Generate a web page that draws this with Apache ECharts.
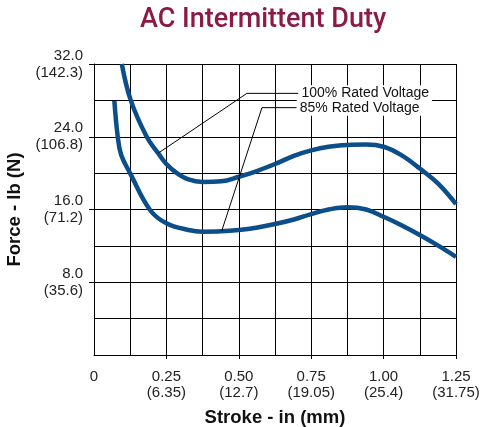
<!DOCTYPE html>
<html>
<head>
<meta charset="utf-8">
<script src="https://cdn.jsdelivr.net/npm/echarts@6/dist/echarts.min.js"></script>
<style>
  html, body { margin: 0; padding: 0; background: #fff; }
  #chart { width: 480px; height: 427px; }
</style>
</head>
<body>
<div id="chart"></div>
<script>
  // stroke (in) / force (lb)
  let fullX = [0.096, 0.127, 0.182, 0.222, 0.25, 0.286, 0.326, 0.375, 0.44, 0.5, 0.56, 0.625, 0.69, 0.75, 0.81, 0.875, 0.94, 1.0, 1.06, 1.125, 1.19, 1.25];
  let fullY = [32, 28, 24, 22.17, 21.0, 20.0, 19.3, 19.03, 19.1, 19.6, 20.2, 21.0, 21.9, 22.5, 22.9, 23.1, 23.15, 22.9, 22.0, 20.5, 18.8, 16.6];
  let lowX = [0.0703, 0.082, 0.094, 0.1245, 0.1935, 0.25, 0.326, 0.375, 0.44, 0.5, 0.56, 0.625, 0.69, 0.75, 0.81, 0.875, 0.94, 1.0, 1.06, 1.125, 1.19, 1.25];
  let lowY = [27.95, 24, 22, 20, 15.95, 14.48, 13.75, 13.56, 13.6, 13.75, 14.0, 14.4, 14.9, 15.5, 16.0, 16.25, 16.0, 15.2, 14.3, 13.2, 12.0, 10.8];

  // leader lines for the two callouts
  let fullLeader = [[0.222, 22.2], [0.528, 28.77], [0.706, 28.77]];
  let lowLeader = [[0.441, 13.64], [0.58, 27.2], [0.7, 27.2]];
  let seriesNames = ['100% Rated Voltage', '85% Rated Voltage'];

  let xTickValues = [0, 0.25, 0.5, 0.75, 1.0, 1.25];
  let xTickLabels = ['0', '0.25\n(6.35)', '0.50\n(12.7)', '0.75\n(19.05)', '1.00\n(25.4)', '1.25\n(31.75)'];
  let yTickValues = [8, 16, 24, 32];
  let yTickLabels = ['8.0\n(35.6)', '16.0\n(71.2)', '24.0\n(106.8)', '32.0\n(142.3)'];

  let zip = (xs, ys) => xs.map((x, i) => [x, ys[i]]);
  let labelFor = (vals, labels) => v => {
    let i = vals.findIndex(t => Math.abs(t - v) < 1e-6);
    return i < 0 ? '' : labels[i];
  };

  let sans = "'Liberation Sans', Arial, Helvetica, sans-serif";
  let curveColor = '#0b4e8a';
  let gridLine = { lineStyle: { color: '#000', width: 1 } };
  let labelFont = { fontFamily: sans, fontSize: 15, color: '#222', lineHeight: 17 };

  let myChart = echarts.init(document.getElementById('chart'), null, { renderer: 'canvas' });
  let option = {
    animation: false,
    backgroundColor: '#fff',
    title: {
      text: 'AC Intermittent Duty',
      left: 140,
      top: 7,
      padding: 0,
      textStyle: { fontFamily: 'Roboto', fontSize: 27, fontWeight: 500, color: '#8b1a47' }
    },
    grid: { left: 94, right: 24, top: 64, bottom: 72, containLabel: false, outerBoundsMode: 'none' },
    xAxis: {
      type: 'value',
      min: 0, max: 1.25, interval: 0.25,
      name: 'Stroke - in (mm)',
      nameLocation: 'middle',
      nameGap: 53,
      nameTextStyle: { fontFamily: sans, fontSize: 18.5, fontWeight: 'bold', color: '#111' },
      axisLine: { show: true, lineStyle: { color: '#000', width: 1 } },
      axisTick: { show: true, length: 4, lineStyle: { color: '#000' }, customValues: xTickValues.slice(1) },
      axisLabel: Object.assign({ margin: 14, formatter: labelFor(xTickValues, xTickLabels), customValues: xTickValues }, labelFont, { lineHeight: 16 }),
      splitLine: Object.assign({ show: true }, gridLine),
      minorTick: { show: false, splitNumber: 2 },
      minorSplitLine: Object.assign({ show: true }, gridLine)
    },
    yAxis: {
      type: 'value',
      min: 0, max: 32, interval: 8,
      name: 'Force - lb (N)',
      nameLocation: 'middle',
      nameRotate: 90,
      nameGap: 66,
      nameTextStyle: { fontFamily: sans, fontSize: 18.5, fontWeight: 'bold', color: '#111' },
      axisLine: { show: true, lineStyle: { color: '#000', width: 1 } },
      axisTick: { show: true, length: 5, lineStyle: { color: '#000' }, customValues: yTickValues },
      axisLabel: Object.assign({ margin: 11, align: 'right', formatter: labelFor(yTickValues, yTickLabels), customValues: yTickValues }, labelFont),
      splitLine: Object.assign({ show: true }, gridLine),
      minorTick: { show: false, splitNumber: 2 },
      minorSplitLine: Object.assign({ show: true }, gridLine)
    },
    series: [
      {
        name: seriesNames[0],
        type: 'line',
        data: zip(fullX, fullY),
        smooth: 0.4,
        symbol: 'none',
        lineStyle: { color: curveColor, width: 4.5 },
        z: 3
      },
      {
        name: seriesNames[1],
        type: 'line',
        data: zip(lowX, lowY),
        smooth: 0.4,
        symbol: 'none',
        lineStyle: { color: curveColor, width: 4.5 },
        z: 3
      },
      {
        name: seriesNames[0] + ' leader',
        type: 'line',
        data: fullLeader,
        symbol: 'none',
        lineStyle: { color: '#000', width: 1 },
        z: 4,
        endLabel: {
          show: true,
          formatter: () => seriesNames[0],
          distance: 0,
          padding: [1, 3, 1, 3],
          backgroundColor: '#fff',
          fontFamily: sans, fontSize: 14, color: '#111'
        }
      },
      {
        name: seriesNames[1] + ' leader',
        type: 'line',
        data: lowLeader,
        symbol: 'none',
        lineStyle: { color: '#000', width: 1 },
        z: 4,
        endLabel: {
          show: true,
          formatter: () => seriesNames[1],
          distance: 0,
          padding: [1, 3, 1, 3],
          backgroundColor: '#fff',
          fontFamily: sans, fontSize: 14, color: '#111'
        }
      }
    ]
  };
  myChart.setOption(option);
</script>
</body>
</html>
